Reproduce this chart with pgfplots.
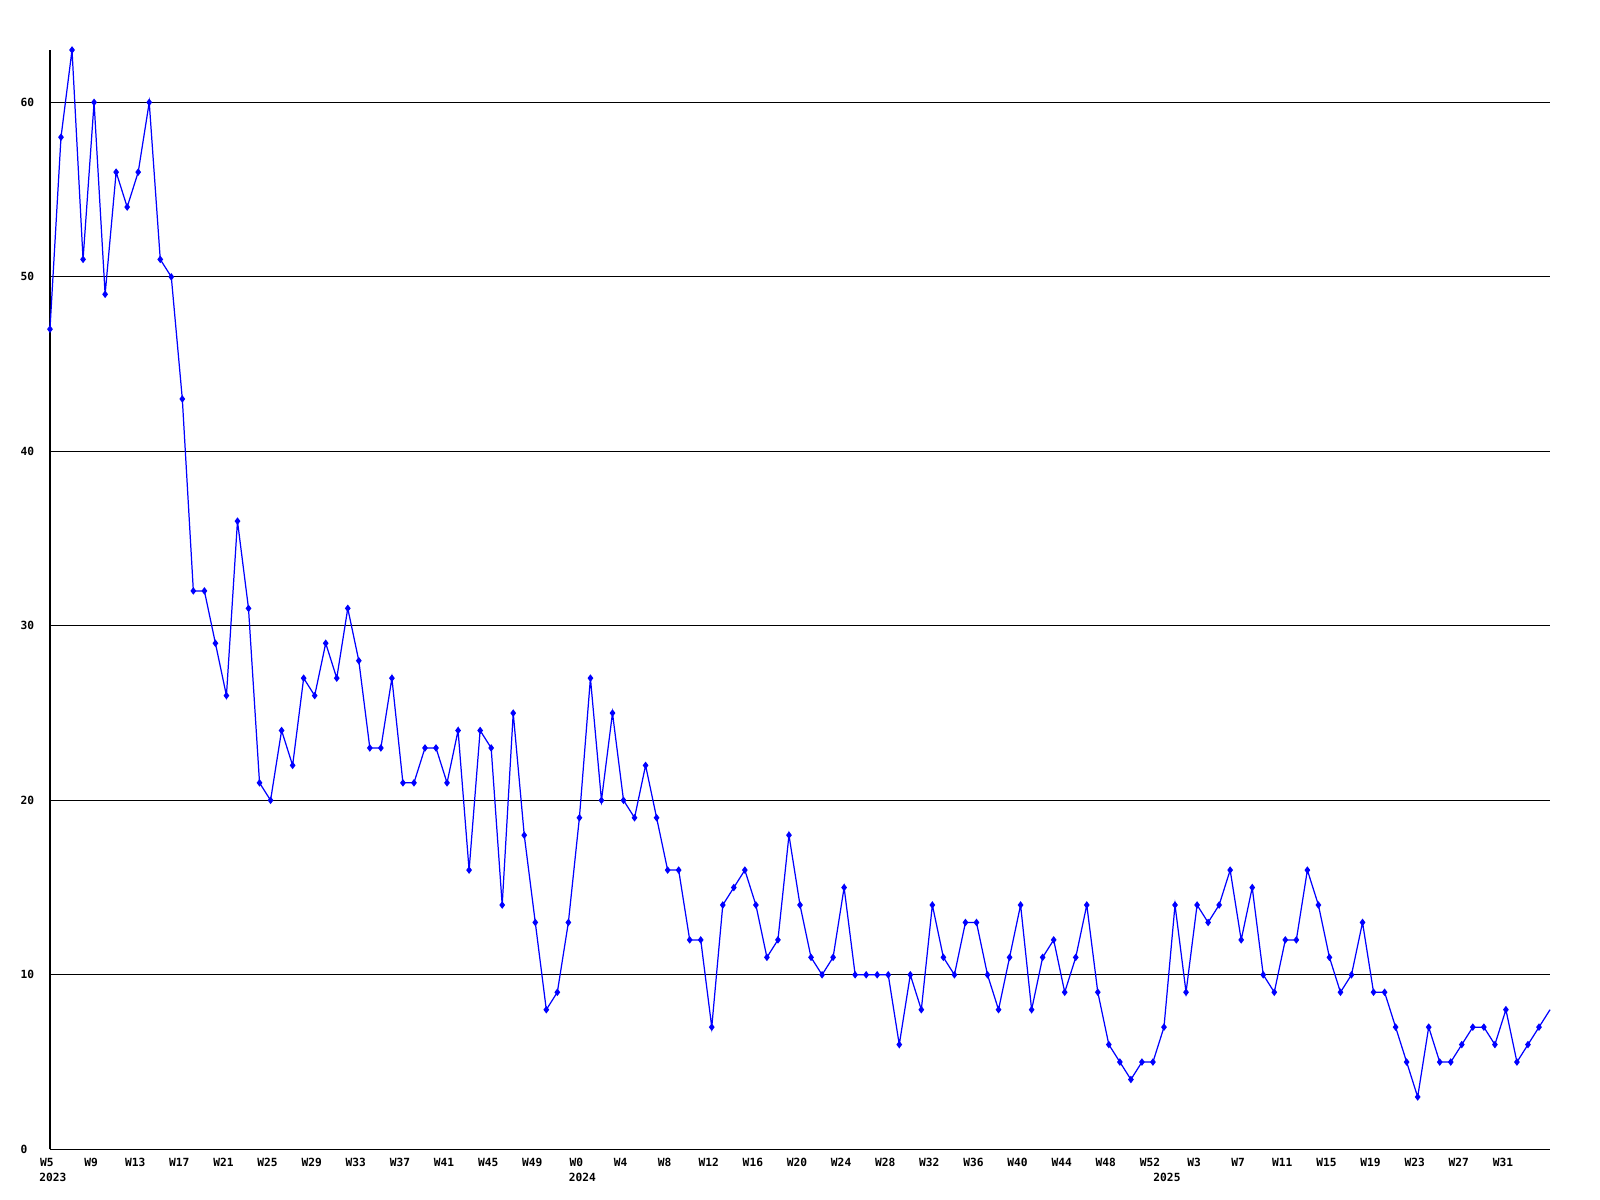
\documentclass[border=0pt]{standalone}
\usepackage{fontspec}
\setmainfont{DejaVu Sans Mono}
\usepackage{pgfplots}
\pgfplotsset{compat=1.18}
\begin{document}
\begin{tikzpicture}
\path[use as bounding box] (-0.50cm,-0.50cm) rectangle (15.51cm,11.50cm);
\begin{axis}[
  at={(0,0)}, anchor=south west,
  scale only axis,
  width=15.01cm, height=11.00cm,
  xmin=0, xmax=136, ymin=0, ymax=63,
  axis x line*=bottom, axis y line*=left,
  axis line style={-, black, line width=0.35pt},
  clip=false,
  major tick length=0pt,
  ymajorgrids,
  grid style={black, line width=0.35pt},
  ytick={0,10,20,30,40,50,60},
  xtick={0,4,...,132},
  xticklabels={W5,W9,W13,W17,W21,W25,W29,W33,W37,W41,W45,W49,W0,W4,W8,W12,W16,W20,W24,W28,W32,W36,W40,W44,W48,W52,W3,W7,W11,W15,W19,W23,W27,W31},
  /pgf/number format/assume math mode=true,
  tick label style={font=\fontsize{3.2}{4}\selectfont\bfseries},
  yticklabel style={anchor=west, inner sep=0pt, xshift=-0.30cm},
  xticklabel style={anchor=north, inner sep=0pt, yshift=-0.08cm, xshift=-0.03cm},
]
\addplot[blue, line width=0.35pt, mark=diamond*, mark size=0.8pt, mark indices={1,...,136}] coordinates {
(0,47)(1,58)(2,63)(3,51)(4,60)(5,49)(6,56)(7,54)(8,56)(9,60)
(10,51)(11,50)(12,43)(13,32)(14,32)(15,29)(16,26)(17,36)(18,31)(19,21)
(20,20)(21,24)(22,22)(23,27)(24,26)(25,29)(26,27)(27,31)(28,28)(29,23)
(30,23)(31,27)(32,21)(33,21)(34,23)(35,23)(36,21)(37,24)(38,16)(39,24)
(40,23)(41,14)(42,25)(43,18)(44,13)(45,8)(46,9)(47,13)(48,19)(49,27)
(50,20)(51,25)(52,20)(53,19)(54,22)(55,19)(56,16)(57,16)(58,12)(59,12)
(60,7)(61,14)(62,15)(63,16)(64,14)(65,11)(66,12)(67,18)(68,14)(69,11)
(70,10)(71,11)(72,15)(73,10)(74,10)(75,10)(76,10)(77,6)(78,10)(79,8)
(80,14)(81,11)(82,10)(83,13)(84,13)(85,10)(86,8)(87,11)(88,14)(89,8)
(90,11)(91,12)(92,9)(93,11)(94,14)(95,9)(96,6)(97,5)(98,4)(99,5)
(100,5)(101,7)(102,14)(103,9)(104,14)(105,13)(106,14)(107,16)(108,12)(109,15)
(110,10)(111,9)(112,12)(113,12)(114,16)(115,14)(116,11)(117,9)(118,10)(119,13)
(120,9)(121,9)(122,7)(123,5)(124,3)(125,7)(126,5)(127,5)(128,6)(129,7)
(130,7)(131,6)(132,8)(133,5)(134,6)(135,7)(136,8)
};
\node[anchor=north, inner sep=0pt, yshift=-0.23cm, xshift=0.03cm, font=\fontsize{3.2}{4}\selectfont\bfseries] at (axis cs:0,0) {2023};
\node[anchor=north, inner sep=0pt, yshift=-0.23cm, xshift=0.03cm, font=\fontsize{3.2}{4}\selectfont\bfseries] at (axis cs:48,0) {2024};
\node[anchor=north, inner sep=0pt, yshift=-0.23cm, xshift=0.03cm, font=\fontsize{3.2}{4}\selectfont\bfseries] at (axis cs:101,0) {2025};
\end{axis}
\end{tikzpicture}
\end{document}
